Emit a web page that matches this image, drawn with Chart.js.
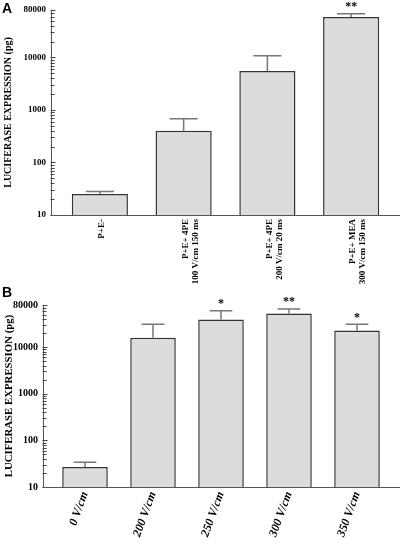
<!DOCTYPE html>
<html>
<head>
<meta charset="utf-8">
<script src="https://cdn.jsdelivr.net/npm/chart.js@4.4.1/dist/chart.umd.min.js"></script>
<style>
  body { margin: 0; background: #fff; }
  #wrap { position: relative; width: 403px; height: 545px; }
  canvas { position: absolute; left: 0; }
  .tag { position: absolute; left: 2px; font: bold 14px "Liberation Sans", Arial, sans-serif; color: #000; }
</style>
</head>
<body>
<div id="wrap">
  <canvas id="chartA" width="403" height="285" style="top:0"></canvas>
  <canvas id="chartB" width="403" height="262" style="top:283px"></canvas>
  <div class="tag" style="top:0">A</div>
  <div class="tag" style="top:284px">B</div>
</div>
<script>
// panel A
const labelsA = ['P+E-', ['P+E+ 4PE', '100 V/cm 150 ms'], ['P+E+ 4PE', '200 V/cm 20 ms'], ['P+E+ MEA', '300 V/cm 150 ms']];
const valuesA = [25, 400, 5500, 59000];
const errorTopA = [28, 680, 10800, 68000];
const marksA = ['', '', '', '**'];

// panel B
const labelsB = ['0 V/cm', '200 V/cm', '250 V/cm', '300 V/cm', '350 V/cm'];
const valuesB = [27, 15800, 39000, 52500, 22600];
const errorTopB = [34, 31000, 60000, 66000, 31000];
const marksB = ['', '', '*', '**', '*'];

const yTickLabels = [10, 100, 1000, 10000, 80000];
const yTitle = 'LUCIFERASE EXPRESSION (pg)';
const SERIF = '"Liberation Serif", "Times New Roman", serif';

// upper error bars, stars, inward y ticks and the long x baseline
const errorBars = {
  id: 'errorBars',
  afterDatasetsDraw(chart, args, opts) {
    const ctx = chart.ctx;
    const y = chart.scales.y;
    const meta = chart.getDatasetMeta(0);
    ctx.save();
    ctx.strokeStyle = '#777';
    ctx.lineWidth = 1.5;
    meta.data.forEach((bar, i) => {
      const top = y.getPixelForValue(opts.upper[i]);
      const half = bar.width / 4;
      ctx.beginPath();
      ctx.moveTo(bar.x, bar.y);
      ctx.lineTo(bar.x, top);
      ctx.moveTo(bar.x - half, top);
      ctx.lineTo(bar.x + half, top);
      ctx.stroke();
      if (opts.marks[i]) {
        ctx.fillStyle = '#000';
        ctx.font = 'bold 12px ' + SERIF;
        ctx.textAlign = 'center';
        ctx.textBaseline = 'alphabetic';
        ctx.fillText(opts.marks[i], bar.x, top - 3.5);
      }
    });

    // ruler-like ticks pointing into the plot
    const ax = Math.round(y.right) - 0.5;
    ctx.strokeStyle = '#444';
    ctx.lineWidth = 1;
    ctx.beginPath();
    y.ticks.forEach(t => {
      const py = Math.round(y.getPixelForValue(t.value)) + 0.5;
      const len = yTickLabels.includes(Math.round(t.value)) ? 5 : 4;
      ctx.moveTo(ax, py);
      ctx.lineTo(ax + len, py);
    });
    ctx.stroke();

    ctx.strokeStyle = '#555';
    const yb = Math.round(chart.chartArea.bottom) + 0.5;
    ctx.beginPath();
    ctx.moveTo(ax, yb);
    ctx.lineTo(chart.width - 3, yb);
    ctx.stroke();
    ctx.restore();
  }
};

function makeChart(id, p) {
  return new Chart(document.getElementById(id).getContext('2d'), {
    type: 'bar',
    data: {
      labels: p.labels,
      datasets: [{
        data: p.values,
        backgroundColor: '#dcdcdc',
        borderColor: '#333',
        borderWidth: 1.5,
        barPercentage: 0.67,
        categoryPercentage: 1
      }]
    },
    plugins: [errorBars],
    options: {
      responsive: false,
      animation: false,
      layout: { padding: { top: p.top, right: p.right, left: 0, bottom: 0 } },
      plugins: {
        legend: { display: false },
        tooltip: { enabled: false },
        errorBars: { upper: p.upper, marks: p.marks }
      },
      scales: {
        x: {
          offset: true,
          grid: { display: false, drawTicks: false },
          border: { display: false },
          ticks: {
            autoSkip: false,
            color: '#000',
            minRotation: p.rot,
            maxRotation: p.rot,
            padding: p.xPad,
            labelOffset: p.labelOffset,
            font: p.xFont
          },
          afterFit: s => { s.height = p.xHeight; }
        },
        y: {
          type: 'logarithmic',
          position: 'left',
          weight: 1,
          min: 10,
          max: 80000,
          border: { color: '#555', width: 1 },
          grid: { display: false, drawTicks: false },
          ticks: {
            autoSkip: false,
            padding: 5,
            color: '#000',
            font: { family: SERIF, weight: 'bold', size: p.yFont },
            callback: v => yTickLabels.includes(Math.round(v)) ? String(Math.round(v)) : ''
          },
          // keep only 1..9 x 10^n minor ticks (drop the 15, 150, ... steps)
          afterBuildTicks: s => {
            s.ticks = s.ticks.filter(t => {
              const m = t.value / Math.pow(10, Math.floor(Math.log10(t.value) + 1e-9));
              return Math.abs(m - Math.round(m)) < 1e-6;
            });
          },
          title: {
            display: true,
            text: yTitle,
            color: '#000',
            font: { family: SERIF, weight: 'bold', size: p.titleFont, lineHeight: 1 },
            padding: { top: 3.5, bottom: 0 }
          },
          afterFit: s => { s.width = p.yWidth; s.paddingTop = 0; s.paddingBottom = 0; }
        },
        // empty spacer between the y axis line and the first bar slot
        gap: {
          type: 'linear',
          position: 'left',
          weight: 0,
          ticks: { display: false },
          grid: { display: false, drawTicks: false },
          border: { display: false },
          afterFit: s => { s.width = p.gap; }
        }
      }
    }
  });
}

const chartA = makeChart('chartA', {
  labels: labelsA, values: valuesA, upper: errorTopA, marks: marksA,
  top: 10, right: 10, yWidth: 51, gap: 7, xHeight: 70,
  rot: 90, xPad: 4, labelOffset: 2,
  xFont: { family: SERIF, weight: 'bold', size: 9, lineHeight: 1.1 },
  yFont: 9, titleFont: 10
});

const chartB = makeChart('chartB', {
  labels: labelsB, values: valuesB, upper: errorTopB, marks: marksB,
  top: 22, right: 12, yWidth: 43, gap: 8, xHeight: 58,
  rot: 70, xPad: 3, labelOffset: 0,
  xFont: { family: SERIF, weight: 'bold', style: 'italic', size: 12, lineHeight: 1.1 },
  yFont: 10, titleFont: 10.8
});
</script>
</body>
</html>
